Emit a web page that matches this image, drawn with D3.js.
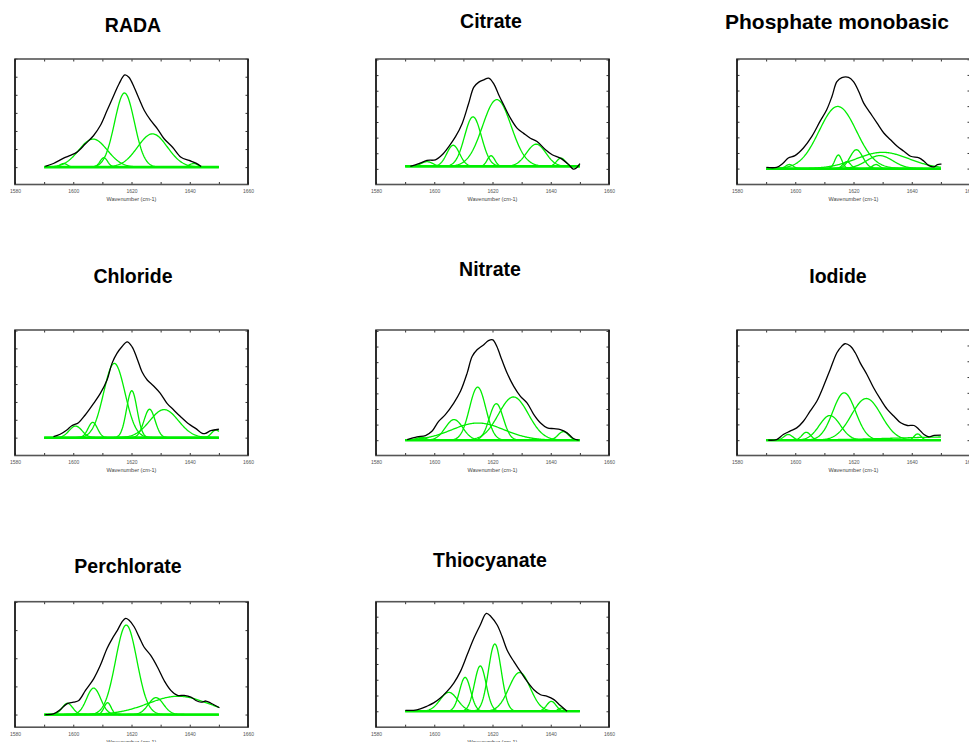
<!DOCTYPE html>
<html>
<head>
<meta charset="utf-8">
<script src="https://cdn.jsdelivr.net/npm/d3@7"></script>
<style>
html,body{margin:0;padding:0;background:#fff;}
svg{display:block;}
</style>
</head>
<body>
<svg id="chart" width="969" height="742"></svg>
<script>
// ---------- DATA ----------
const xDomain = [1580, 1660];
const xTickLabels = [1580, 1600, 1620, 1640, 1660];
const xAxisTitle = "Wavenumber (cm-1)";
const titles = ["RADA", "Citrate", "Phosphate monobasic", "Chloride", "Nitrate", "Iodide", "Perchlorate", "Thiocyanate"];

// measured spectra: [wavenumber, absorbance (arb.)]
const radaSpectrum = [[1590.4,0.04],[1593.2,0.2],[1596.7,0.5],[1599,0.65],[1601.3,0.83],[1604.2,1.29],[1607,1.75],[1609.3,2.3],[1611.6,3.13],[1613.9,3.96],[1615.7,4.6],[1617.7,5.1],[1619.1,4.97],[1620.9,4.42],[1622.6,3.78],[1624.4,3.13],[1626.6,2.58],[1628.9,2.12],[1631.2,1.57],[1634.1,1.1],[1637,0.55],[1639.8,0.37],[1642.1,0.22],[1643.9,0.04]];
const citrateSpectrum = [[1591.8,0],[1594.7,0.17],[1597.5,0.38],[1600.4,0.42],[1602.7,0.74],[1605,1.27],[1607.3,1.9],[1609.6,2.75],[1611.8,4.02],[1613.6,5.07],[1615.3,5.39],[1617,5.54],[1618.7,5.64],[1620.4,5.29],[1622.2,4.55],[1623.9,3.91],[1626.2,3.07],[1628.5,2.43],[1630.7,2.11],[1633,1.8],[1635.3,1.59],[1638.2,1.06],[1640.5,0.74],[1643.3,0.53],[1646.2,0.11],[1647.7,-0.17],[1648.8,-0.1],[1650,0.17]];
const phosphateSpectrum = [[1590.1,0.08],[1593.6,0.08],[1595.9,0.36],[1597.6,0.68],[1599.9,0.83],[1602.8,1.32],[1605.7,2.06],[1608.5,3.02],[1610.8,3.77],[1612.6,4.62],[1614.3,5.57],[1616,5.83],[1618.3,5.85],[1620,5.57],[1621.8,4.94],[1623.5,4.19],[1625.8,3.55],[1628.1,2.91],[1630.4,2.28],[1632.7,1.85],[1635,1.43],[1637.3,1.11],[1639.6,0.79],[1642.5,0.68],[1644.2,0.47],[1645.9,0.19],[1647.7,0.11],[1648.8,0.26],[1650.2,0.28]];
const chlorideSpectrum = [[1593.2,0.06],[1595.5,0.19],[1597.8,0.43],[1599.5,0.67],[1601.8,0.84],[1604.1,1.27],[1607,1.92],[1609.3,2.48],[1611.6,3.23],[1613.3,4.16],[1615,4.72],[1616.7,5.09],[1618.5,5.37],[1620.2,5.09],[1621.9,4.44],[1623.6,3.69],[1625.4,3.23],[1627.6,2.89],[1629.9,2.48],[1632.2,1.92],[1634.5,1.55],[1636.8,1.18],[1639.7,0.76],[1642,0.52],[1644.3,0.24],[1645.4,0.24],[1647.2,0.39],[1650,0.47]];
const nitrateSpectrum = [[1590.7,0.04],[1594.1,0.21],[1597,0.3],[1599.2,0.57],[1601.5,1.21],[1603.8,1.64],[1606.7,2.38],[1609,3.13],[1611.3,4.3],[1613,5.36],[1614.7,5.79],[1616.9,6.1],[1618.6,6.38],[1620.1,6.43],[1621.5,6.0],[1623.2,5.15],[1625,4.3],[1627.3,3.45],[1629.6,2.81],[1631.9,2.38],[1634.2,1.64],[1636.5,1.1],[1638.8,0.79],[1641.1,0.74],[1643.3,0.68],[1645.6,0.47],[1647.9,0.09],[1649.6,0]];
const iodideSpectrum = [[1590.7,0],[1593.6,0.04],[1595.9,0.36],[1598.2,0.57],[1600.5,0.78],[1602.8,1.2],[1605.1,1.84],[1607.4,2.47],[1609.7,3.42],[1612,4.48],[1614.3,5.54],[1616,5.96],[1617.1,6.11],[1618.9,5.96],[1620.6,5.54],[1622.3,4.9],[1624.6,4.16],[1626.9,3.32],[1629.3,2.58],[1631.6,1.95],[1633.9,1.52],[1636.2,1.1],[1638.5,0.93],[1640.8,0.93],[1642.5,0.68],[1644.2,0.36],[1645.9,0.21],[1647.7,0.3],[1650,0.32]];
const perchlorateSpectrum = [[1590.4,0],[1593.2,0.02],[1595.5,0.17],[1597.8,0.38],[1600.1,0.44],[1601.9,0.5],[1604.2,0.86],[1607,1.27],[1609.3,1.75],[1611.6,2.35],[1613.4,2.7],[1615.1,2.98],[1616.8,3.3],[1618,3.42],[1619.1,3.36],[1620.9,3.12],[1622.6,2.76],[1624.3,2.4],[1626.6,2.1],[1628.9,1.69],[1631.2,1.21],[1633.5,0.86],[1635.8,0.68],[1638.1,0.68],[1640.4,0.62],[1642.1,0.5],[1643.9,0.44],[1645.6,0.48],[1647.3,0.4],[1650.2,0.24]];
const thiocyanateSpectrum = [[1590.1,0.06],[1592.9,0.06],[1595.2,0.15],[1597.5,0.32],[1599.8,0.53],[1602.1,0.84],[1604.4,1.26],[1606.7,1.79],[1609,2.53],[1611.3,3.58],[1613.6,4.63],[1615.8,5.47],[1617.9,6.21],[1619.5,6.0],[1621.6,5.47],[1623.3,4.74],[1625,3.89],[1627.3,3.16],[1629.6,2.53],[1631.9,1.89],[1634.2,1.37],[1636.5,1.05],[1638.8,0.95],[1641.1,0.74],[1643.3,0.36],[1645.6,0]];

// fitted Gaussian components: [centre, height, sigma]
const radaPeaks = [[1596.7,0.2,1.3],[1606.8,1.55,4.9],[1610.5,0.52,1.3],[1617.6,4.1,3.4],[1627.2,1.84,5.1],[1641.3,0.2,1.5]];
const citratePeaks = [[1597.5,0.3,2],[1606.5,1.35,2.2],[1613.3,3.17,2.9],[1619.5,0.68,1.3],[1621.5,4.27,4.9],[1635,1.42,3.3],[1643.5,0.53,1.5]];
const phosphatePeaks = [[1598,0.26,1.3],[1614.6,3.98,6.4],[1614.8,0.87,1.2],[1617.7,0.45,1.3],[1621,1.21,2.2],[1627.7,0.26,1.2],[1630,1.04,9],[1629,0.83,4.5]];
const chloridePeaks = [[1600.8,0.65,2.2],[1606.7,0.86,1.6],[1614.1,4.16,3.66],[1620.1,2.63,1.8],[1626.2,1.59,1.9],[1631.2,1.57,4.9],[1649,0.43,1.5]];
const nitratePeaks = [[1595.5,0.19,1.5],[1606.8,1.32,3],[1615,1.1,9],[1614.9,3.4,2.8],[1621.3,2.34,2.4],[1627.2,2.77,5.1],[1644.3,0.55,1.8]];
const iodidePeaks = [[1597.6,0.36,1.5],[1603.8,0.5,1.5],[1611.9,1.56,3.6],[1616.8,3.0,3.9],[1624.4,2.64,5.1],[1642,0.4,1.2],[1660,0.22,25]];
const perchloratePeaks = [[1598,0.4,1.8],[1607,0.94,2.4],[1611.8,0.42,1.2],[1618.2,3.18,3.66],[1628.4,0.6,2.6],[1636,0.65,10.3]];
const thiocyanatePeaks = [[1605,1.2,3],[1610.6,2.15,1.9],[1615.8,2.88,2],[1620.8,4.27,2.2],[1629.3,2.46,3.65],[1640.2,0.63,1.6],[1643.5,0.2,1]];

const fitRange = [1590, 1650];

// y-axis scale settings per panel (arbitrary units)
const yDomains = [[-0.96,5.98],[-1.16,6.87],[-1.02,7.02],[-1,6.03],[-0.98,7.06],[-0.97,6.98],[-0.45,4.01],[-1.01,6.95]];
const yTickStarts = [0,-0.16,0,0,0,0,0,0];

const spectra = [radaSpectrum, citrateSpectrum, phosphateSpectrum, chlorideSpectrum, nitrateSpectrum, iodideSpectrum, perchlorateSpectrum, thiocyanateSpectrum];
const peakSets = [radaPeaks, citratePeaks, phosphatePeaks, chloridePeaks, nitratePeaks, iodidePeaks, perchloratePeaks, thiocyanatePeaks];

// ---------- LAYOUT ----------
const colX = [15, 376, 737];
const rowY = [59, 330, 601.7];
const fw = 233, fh = 125.5;
const titleCY = [25, 21, 21, 276, 269, 276, 566, 560];
const titleCX = [133, 491, 837, 133, 490, 838, 128, 490];
const titleSize = [19.5, 19.5, 21, 19.5, 19.5, 19.5, 19.5, 19.5];

const svg = d3.select("#chart");
const green = "#00ee00";

titles.forEach((name, i) => {
  const col = i % 3, row = Math.floor(i / 3);
  const g = svg.append("g").attr("transform", `translate(${colX[col]},${rowY[row]})`);
  const x = d3.scaleLinear().domain(xDomain).range([0, fw]);
  const y = d3.scaleLinear().domain(yDomains[i]).range([fh, 0]);

  const defs = svg.append("defs");
  defs.append("clipPath").attr("id", "clip" + i)
    .append("rect").attr("x", 0).attr("y", 0).attr("width", fw).attr("height", fh);
  const plot = g.append("g").attr("clip-path", `url(#clip${i})`);

  const line = d3.line().x(d => x(d[0])).y(d => y(d[1]));
  const xs = d3.range(fitRange[0], fitRange[1] + 0.001, 0.25);

  // baseline
  plot.append("path")
    .datum(fitRange.map(v => [v, 0]))
    .attr("d", line)
    .attr("fill", "none").attr("stroke", green).attr("stroke-width", 2.6);

  // Gaussian components
  peakSets[i].forEach(([c, h, s]) => {
    const pts = xs.map(v => [v, h * Math.exp(-((v - c) * (v - c)) / (2 * s * s))]);
    plot.append("path").datum(pts).attr("d", line)
      .attr("fill", "none").attr("stroke", green).attr("stroke-width", 1.3);
  });

  // measured spectrum
  plot.append("path").datum(spectra[i])
    .attr("d", line.curve(d3.curveCatmullRom.alpha(0.5)))
    .attr("fill", "none").attr("stroke", "#000").attr("stroke-width", 1.3)
    .attr("stroke-linejoin", "round");

  // axes (ticks inward)
  const xTicks = d3.range(xDomain[0], xDomain[1] + 0.1, 10);
  const bottom = g.append("g").attr("transform", `translate(0,${fh})`)
    .call(d3.axisBottom(x).tickValues(xTicks).tickSize(-2.5).tickPadding(5)
      .tickFormat(d => xTickLabels.includes(d) ? String(d) : ""));
  const top = g.append("g")
    .call(d3.axisTop(x).tickValues(xTicks).tickSize(-2.5).tickFormat(""));
  const yT = d3.range(yTickStarts[i], yDomains[i][1] + 0.05, 1);
  const left = g.append("g")
    .call(d3.axisLeft(y).tickValues(yT).tickSize(-2.5).tickFormat(""));
  const right = g.append("g").attr("transform", `translate(${fw},0)`)
    .call(d3.axisRight(y).tickValues(yT).tickSize(-2.5).tickFormat(""));
  [bottom, top, left, right].forEach(a => {
    a.select(".domain").remove();
    a.selectAll(".tick line").attr("stroke", "#333").attr("stroke-width", 1);
  });
  bottom.selectAll(".tick text").attr("font-family", "Liberation Sans, Arial, sans-serif")
    .attr("font-size", 5).attr("fill", "#555");

  // frame
  g.append("rect").attr("x", 0).attr("y", 0).attr("width", fw).attr("height", fh)
    .attr("fill", "none").attr("stroke", "#555").attr("stroke-width", 1.6);
  g.append("line").attr("x1", 0).attr("x2", 0).attr("y1", 0).attr("y2", fh)
    .attr("stroke", "#111").attr("stroke-width", 1.4);
  g.append("line").attr("x1", fw).attr("x2", fw).attr("y1", 0).attr("y2", fh)
    .attr("stroke", "#111").attr("stroke-width", 1.4);

  // axis title
  g.append("text").attr("x", fw / 2).attr("y", fh + 14.5)
    .attr("text-anchor", "middle").attr("dominant-baseline", "central")
    .attr("font-family", "Liberation Sans, Arial, sans-serif")
    .attr("font-size", 5.5).attr("fill", "#444").text(xAxisTitle);

  // panel title
  svg.append("text").attr("x", titleCX[i]).attr("y", titleCY[i])
    .attr("text-anchor", "middle").attr("dominant-baseline", "central")
    .attr("font-family", "Liberation Sans, Arial, sans-serif")
    .attr("font-weight", "bold").attr("font-size", titleSize[i]).attr("fill", "#000")
    .text(name);
});
</script>
</body>
</html>
